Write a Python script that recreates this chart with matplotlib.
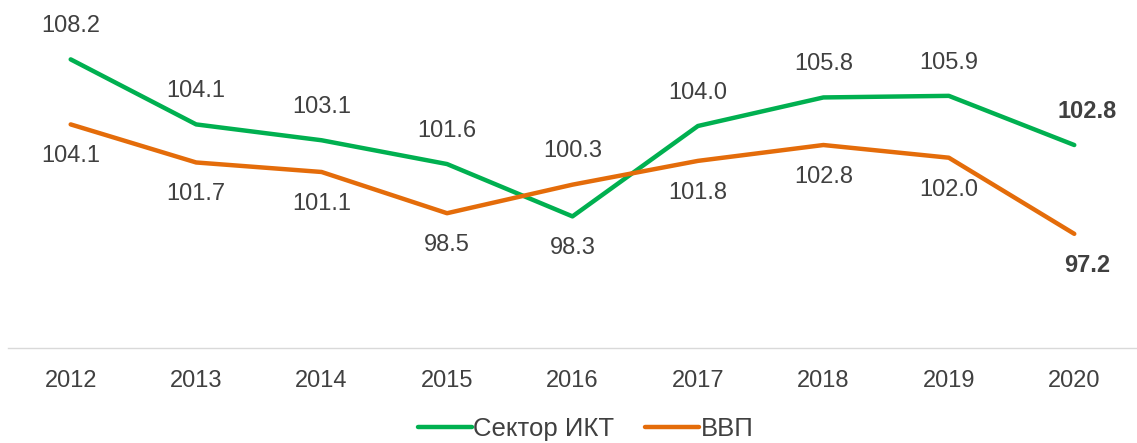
import matplotlib
matplotlib.use("Agg")
import matplotlib.pyplot as plt

years = ["2012", "2013", "2014", "2015", "2016", "2017", "2018", "2019", "2020"]
ict = [108.2, 104.1, 103.1, 101.6, 98.3, 104.0, 105.8, 105.9, 102.8]
gdp = [104.1, 101.7, 101.1, 98.5, 100.3, 101.8, 102.8, 102.0, 97.2]
ict_label_above = [True, True, True, True, False, True, True, True, True]
gdp_label_above = [False, False, False, False, True, False, False, False, False]

plt.rcParams['font.family'] = ['Liberation Sans', 'DejaVu Sans']
text_color = "#404040"
green = "#00B050"
orange = "#E46C0A"

fig = plt.figure(figsize=(11.37, 4.43), dpi=100)
ax = fig.add_axes([0.007, 0.2144, 0.993, 0.716])
x = list(range(len(years)))
ax.plot(x, ict, color=green, lw=3.2, solid_capstyle='round', solid_joinstyle='round', label="Сектор ИКТ")
ax.plot(x, gdp, color=orange, lw=3.2, solid_capstyle='round', solid_joinstyle='round', label="ВВП")

n = len(years)
for i in range(n):
    bold = i == n - 1
    dx = 9 if bold else 0
    for vals, above in ((ict, ict_label_above), (gdp, gdp_label_above)):
        off = 24 if above[i] else -23
        ax.annotate(f"{vals[i]:.1f}", (x[i], vals[i]), xytext=(dx, off), textcoords="offset points",
                    ha="center", va="center", fontsize=17, color=text_color,
                    fontweight="bold" if bold else "normal")

ax.set_xlim(-0.5, n - 0.5)
ax.set_ylim(90, 110)
ax.set_xticks(x)
ax.set_xticklabels(years, fontsize=17, color=text_color)
ax.tick_params(axis='x', length=0, pad=16)
ax.set_yticks([])
for s in ("top", "right", "left"):
    ax.spines[s].set_visible(False)
ax.spines["bottom"].set_color("#d9d9d9")
ax.spines["bottom"].set_linewidth(1)

fig.legend(loc="lower center", bbox_to_anchor=(0.515, -0.048), ncol=2, frameon=False,
           fontsize=18.5, labelcolor=text_color, handlelength=2.1, handletextpad=0.05, columnspacing=1.2)

fig.savefig("out.png", dpi=100)
